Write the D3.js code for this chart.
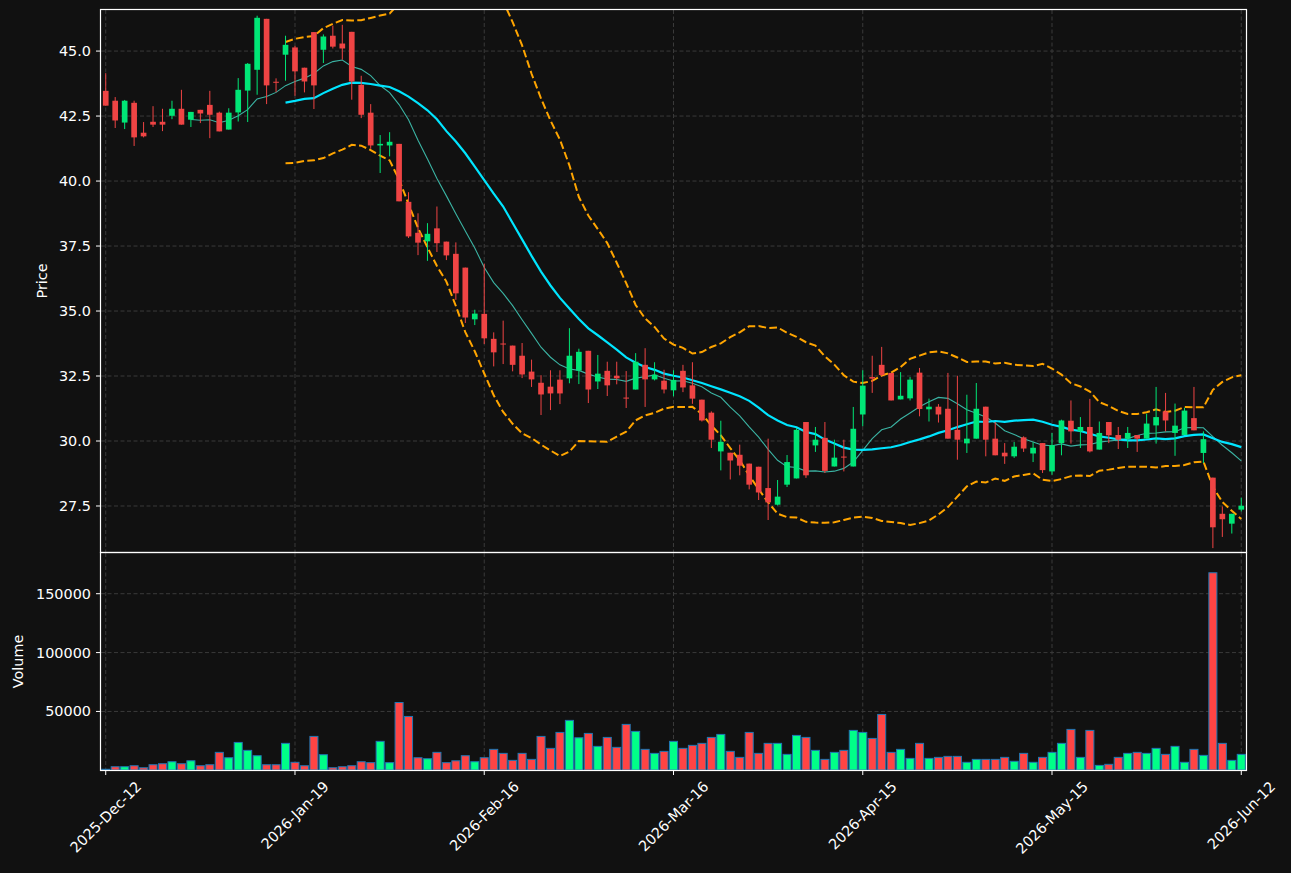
<!DOCTYPE html>
<html>
<head>
<meta charset="utf-8">
<script src="https://cdnjs.cloudflare.com/ajax/libs/d3/7.8.5/d3.min.js"></script>
<style>
    html, body { margin: 0; padding: 0; background: #111111; }
    svg { display: block; }
</style>
</head>
<body>
<div id="chart"></div>
<script>
// OHLC + volume, one entry per trading session (index 0 .. 120)
const opens = [43.47, 43.09, 42.25, 43.01, 41.86, 42.28, 42.28, 42.51, 42.78, 42.36,
    42.74, 42.93, 42.63, 41.98, 42.64, 43.48, 44.28, 46.24, 43.82, 44.86,
    45.14, 44.36, 45.73, 45.05, 45.59, 45.29, 45.74, 43.70, 42.63, 41.37,
    41.37, 41.43, 39.20, 38.01, 37.68, 38.18, 37.67, 37.20, 36.67, 34.68,
    34.89, 33.93, 33.75, 33.67, 33.28, 32.67, 32.24, 32.09, 32.36, 32.41,
    32.71, 33.47, 32.29, 32.70, 32.51, 31.67, 31.98, 32.93, 32.37, 32.32,
    31.95, 32.70, 32.14, 31.59, 31.09, 29.60, 29.55, 29.47, 29.13, 29.01,
    28.19, 27.55, 28.32, 28.56, 30.73, 29.83, 30.12, 29.02, 29.40, 29.02,
    31.02, 32.46, 32.93, 32.62, 31.60, 31.64, 32.63, 31.22, 31.32, 31.24,
    30.43, 29.91, 30.09, 31.32, 30.09, 29.55, 29.41, 30.14, 29.52, 29.92,
    28.83, 29.92, 30.78, 30.37, 30.54, 29.67, 30.73, 30.23, 30.09, 30.23,
    30.09, 30.60, 31.14, 30.31, 30.23, 30.88, 29.54, 28.59, 27.20, 26.82,
    27.36];
const highs = [44.15, 43.23, 43.12, 43.09, 42.27, 42.88, 42.78, 43.09, 43.51, 42.66,
    42.74, 43.47, 42.67, 42.80, 43.96, 44.54, 46.36, 46.24, 43.95, 45.59,
    45.20, 44.36, 45.73, 45.64, 45.98, 46.01, 45.74, 44.05, 42.96, 41.77,
    41.88, 41.43, 39.57, 38.76, 38.38, 39.02, 37.67, 37.64, 36.67, 35.05,
    36.82, 34.18, 34.63, 33.67, 33.77, 33.13, 32.53, 32.72, 32.72, 34.34,
    33.55, 33.47, 33.31, 33.05, 33.05, 32.69, 33.38, 33.57, 33.03, 32.74,
    32.72, 32.93, 33.03, 31.59, 31.14, 30.78, 29.55, 29.86, 29.13, 29.01,
    30.09, 28.50, 29.46, 30.50, 30.73, 30.54, 30.73, 30.05, 30.05, 31.31,
    32.72, 33.28, 33.62, 32.62, 32.65, 32.46, 32.81, 31.63, 31.42, 32.62,
    32.51, 31.78, 32.23, 31.32, 30.73, 29.92, 29.96, 30.18, 29.95, 29.92,
    30.31, 30.82, 31.56, 30.92, 31.62, 30.75, 30.73, 30.54, 30.54, 30.23,
    31.05, 32.08, 31.85, 31.44, 31.28, 32.08, 30.37, 28.59, 27.48, 27.20,
    27.82];
const lows = [42.90, 42.04, 42.00, 41.35, 41.68, 42.08, 41.92, 42.38, 42.17, 42.08,
    42.23, 41.65, 41.91, 41.98, 42.29, 42.27, 43.32, 42.96, 43.42, 43.86,
    43.28, 43.41, 42.77, 44.54, 45.10, 44.67, 43.13, 42.42, 41.24, 40.31,
    40.95, 39.22, 37.81, 37.15, 36.93, 37.27, 36.96, 35.43, 34.54, 34.46,
    33.73, 32.87, 32.96, 32.68, 32.42, 32.08, 31.00, 31.19, 31.42, 32.22,
    32.19, 31.46, 32.00, 31.73, 32.18, 31.27, 31.98, 31.31, 32.33, 31.83,
    31.72, 31.88, 31.43, 30.75, 29.73, 28.87, 28.52, 28.68, 28.14, 27.73,
    26.96, 27.52, 28.23, 28.56, 28.58, 29.58, 28.77, 29.02, 28.83, 29.02,
    30.57, 31.85, 32.48, 31.56, 31.60, 31.56, 30.95, 30.75, 30.71, 30.09,
    29.28, 29.54, 30.09, 29.41, 29.45, 29.12, 29.35, 29.58, 29.19, 28.77,
    28.70, 29.45, 29.90, 29.73, 29.56, 29.67, 29.92, 29.69, 29.73, 29.58,
    30.09, 29.90, 30.37, 29.43, 30.23, 30.41, 29.15, 25.88, 26.31, 26.44,
    27.29];
const closes = [42.90, 42.33, 43.09, 41.68, 41.72, 42.17, 42.17, 42.78, 42.17, 42.66,
    42.60, 42.55, 41.91, 42.63, 43.51, 44.51, 46.28, 43.68, 43.78, 45.24,
    44.22, 43.83, 43.68, 45.56, 45.17, 45.10, 43.83, 42.55, 41.37, 41.43,
    41.51, 39.22, 37.87, 37.63, 37.97, 37.61, 37.14, 35.68, 34.75, 34.90,
    33.95, 33.41, 33.73, 32.93, 32.56, 32.37, 31.79, 31.83, 31.83, 33.28,
    33.43, 31.98, 32.59, 32.14, 32.41, 31.65, 33.05, 32.37, 32.55, 31.98,
    32.35, 32.06, 31.63, 30.79, 30.05, 29.97, 29.25, 29.05, 28.32, 28.02,
    27.64, 27.86, 29.19, 30.43, 28.68, 30.05, 28.85, 29.36, 29.38, 30.47,
    32.13, 32.40, 32.54, 31.56, 31.74, 32.36, 31.23, 31.32, 31.02, 30.09,
    30.05, 30.09, 31.24, 30.05, 29.45, 29.41, 29.78, 29.71, 29.74, 28.88,
    29.84, 30.79, 30.37, 30.54, 29.60, 30.31, 30.22, 30.05, 30.31, 30.09,
    30.67, 30.92, 30.79, 30.59, 31.17, 30.41, 30.07, 26.68, 26.99, 27.20,
    27.51];
const volumes = [900, 3050, 3050, 3900, 2200, 4750, 5600, 7300, 5600, 8100,
    3900, 4750, 15250, 10700, 23700, 16950, 12400, 4750, 4750, 22900,
    6800, 3900, 28800, 13250, 2200, 3050, 3900, 7300, 6500, 24600,
    6500, 57600, 45750, 10700, 9850, 15250, 6500, 8100, 12400, 7300,
    10700, 17800, 14400, 8450, 14400, 9300, 28800, 18650, 32200, 42400,
    27650, 31350, 20350, 27950, 19500, 39000, 33050, 17800, 14400, 16100,
    24600, 18650, 21200, 22900, 27950, 30500, 16100, 11000, 32200, 14400,
    22900, 22900, 13550, 29650, 27950, 16950, 9300, 15250, 16950, 33900,
    32200, 27100, 47450, 15250, 17800, 10150, 22900, 10150, 11000, 11850,
    11850, 6800, 9300, 9300, 9300, 11000, 7650, 14400, 6800, 11000,
    15250, 22900, 34750, 11000, 33900, 4200, 5100, 11000, 14400, 15250,
    14400, 18650, 13550, 20350, 6800, 17800, 12700, 167800, 22900, 8450,
    13550];

const tick_index = [0, 20, 40, 60, 80, 100, 120];
const tick_labels = ['2025-Dec-12', '2026-Jan-19', '2026-Feb-16', '2026-Mar-16',
    '2026-Apr-15', '2026-May-15', '2026-Jun-12'];
const price_ticks = [27.5, 30.0, 32.5, 35.0, 37.5, 40.0, 42.5, 45.0];
const volume_ticks = [50000, 100000, 150000];
const price_range = [25.73, 46.58];

(function() {
    const width = 1291, height = 873;
    const left = 101, right = 1246,
        price_top = 10, price_bottom = 552,
        vol_top = 553, vol_bottom = 770;

    const font = 'DejaVu Sans, sans-serif',
        font_size = 14.4;

    const up_color = '#00e676', down_color = '#ef4444',
        vol_up = '#00ff88', vol_down = '#ff4444',
        grid_color = '#3a3a3a';

    const n = closes.length;

    // indicators, as the source chart draws them from the closes
    const window_of = (len, i) => closes.slice(i - len + 1, i + 1);
    const pop_std = (arr) => d3.deviation(arr) * Math.sqrt((arr.length - 1) / arr.length);
    const ma10 = closes.map((c, i) => i < 9 ? null : d3.mean(window_of(10, i)));
    const ma20 = closes.map((c, i) => i < 19 ? null : d3.mean(window_of(20, i)));
    const sd20 = closes.map((c, i) => i < 19 ? null : pop_std(window_of(20, i)));
    const bb_upper = ma20.map((m, i) => m === null ? null : m + 2 * sd20[i]);
    const bb_lower = ma20.map((m, i) => m === null ? null : m - 2 * sd20[i]);

    let x = d3.scaleLinear().domain([-0.5, n - 0.5]).range([left, right]);
    let y = d3.scaleLinear().domain(price_range).range([price_bottom, price_top]);
    let vy = d3.scaleLinear()
        .domain([0.3 * d3.min(volumes), 1.1 * d3.max(volumes)])
        .range([vol_bottom, vol_top]);

    const step = x(1) - x(0);

    let svg = d3.select('#chart').append('svg')
        .attr('width', width)
        .attr('height', height)
        .attr('font-family', font)
        .attr('font-size', font_size);

    svg.append('rect')
        .attr('width', width)
        .attr('height', height)
        .attr('fill', '#111111');

    let defs = svg.append('defs');
    defs.append('clipPath').attr('id', 'clip-price')
        .append('rect')
        .attr('x', left).attr('y', price_top)
        .attr('width', right - left).attr('height', price_bottom - price_top);
    defs.append('clipPath').attr('id', 'clip-vol')
        .append('rect')
        .attr('x', left).attr('y', vol_top)
        .attr('width', right - left).attr('height', vol_bottom - vol_top);

    // grids
    let grid = svg.append('g')
        .attr('stroke', grid_color)
        .attr('stroke-width', 1)
        .attr('stroke-dasharray', '4,2.5');

    grid.selectAll('line.hp')
        .data(price_ticks)
        .enter().append('line')
        .attr('class', 'hp')
        .attr('x1', left).attr('x2', right)
        .attr('y1', (d) => y(d)).attr('y2', (d) => y(d));

    grid.selectAll('line.hv')
        .data(volume_ticks)
        .enter().append('line')
        .attr('class', 'hv')
        .attr('x1', left).attr('x2', right)
        .attr('y1', (d) => vy(d)).attr('y2', (d) => vy(d));

    grid.selectAll('line.vp')
        .data(tick_index)
        .enter().append('line')
        .attr('class', 'vp')
        .attr('x1', (d) => x(d)).attr('x2', (d) => x(d))
        .attr('y1', price_top).attr('y2', price_bottom);

    grid.selectAll('line.vv')
        .data(tick_index)
        .enter().append('line')
        .attr('class', 'vv')
        .attr('x1', (d) => x(d)).attr('x2', (d) => x(d))
        .attr('y1', vol_top).attr('y2', vol_bottom);

    // volume bars
    svg.append('g')
        .attr('clip-path', 'url(#clip-vol)')
        .selectAll('rect')
        .data(volumes)
        .enter().append('rect')
        .attr('x', (d, i) => x(i) - step * 0.425)
        .attr('width', step * 0.85)
        .attr('y', (d) => vy(d))
        .attr('height', (d) => Math.max(0, vol_bottom - vy(d)))
        .attr('fill', (d, i) => closes[i] >= opens[i] ? vol_up : vol_down)
        .attr('stroke', '#1f77b4')
        .attr('stroke-width', 1);

    // price panel: bands, averages, candles
    let price = svg.append('g').attr('clip-path', 'url(#clip-price)');

    let line = d3.line()
        .defined((d) => d !== null)
        .x((d, i) => x(i))
        .y((d) => y(d));

    [bb_upper, bb_lower].forEach(function(band) {
        price.append('path').datum(band)
            .attr('fill', 'none')
            .attr('stroke', '#ffa500')
            .attr('stroke-width', 2)
            .attr('stroke-dasharray', '7.7,3.3')
            .attr('d', line);
    });

    price.append('path').datum(ma10)
        .attr('fill', 'none')
        .attr('stroke', '#3bb3a3')
        .attr('stroke-width', 1.1)
        .attr('d', line);

    price.append('path').datum(ma20)
        .attr('fill', 'none')
        .attr('stroke', '#00e5ff')
        .attr('stroke-width', 2.2)
        .attr('d', line);

    let candles = price.selectAll('g.candle')
        .data(d3.range(n))
        .enter().append('g')
        .attr('class', 'candle')
        .attr('fill', (i) => closes[i] >= opens[i] ? up_color : down_color)
        .attr('stroke', (i) => closes[i] >= opens[i] ? up_color : down_color);

    candles.append('line')
        .attr('x1', (i) => x(i)).attr('x2', (i) => x(i))
        .attr('y1', (i) => y(highs[i])).attr('y2', (i) => y(lows[i]))
        .attr('stroke-width', 1);

    candles.append('rect')
        .attr('stroke', 'none')
        .attr('x', (i) => x(i) - step * 0.3)
        .attr('width', step * 0.6)
        .attr('y', (i) => y(Math.max(opens[i], closes[i])))
        .attr('height', (i) => Math.max(1, Math.abs(y(opens[i]) - y(closes[i]))));

    // axes frames
    [[price_top, price_bottom], [vol_top, vol_bottom]].forEach(function(p) {
        svg.append('rect')
            .attr('x', left - 0.5).attr('y', p[0] - 0.5)
            .attr('width', right - left + 1).attr('height', p[1] - p[0] + 1)
            .attr('fill', 'none')
            .attr('stroke', '#ffffff')
            .attr('stroke-width', 1.2);
    });

    // y ticks
    let ytick = svg.append('g').attr('fill', '#ffffff').attr('text-anchor', 'end');

    price_ticks.forEach(function(t) {
        ytick.append('line')
            .attr('x1', left - 5).attr('x2', left)
            .attr('y1', y(t)).attr('y2', y(t))
            .attr('stroke', '#ffffff');
        ytick.append('text')
            .attr('x', left - 10).attr('y', y(t))
            .attr('dy', '0.35em')
            .text(d3.format('.1f')(t));
    });

    volume_ticks.forEach(function(t) {
        ytick.append('line')
            .attr('x1', left - 5).attr('x2', left)
            .attr('y1', vy(t)).attr('y2', vy(t))
            .attr('stroke', '#ffffff');
        ytick.append('text')
            .attr('x', left - 10).attr('y', vy(t))
            .attr('dy', '0.35em')
            .text(t);
    });

    // x ticks, rotated labels centred under the tick
    let xtick = svg.append('g').attr('fill', '#ffffff');
    tick_index.forEach(function(t, k) {
        let tx = x(t);
        xtick.append('line')
            .attr('x1', tx).attr('x2', tx)
            .attr('y1', vol_bottom).attr('y2', vol_bottom + 5)
            .attr('stroke', '#ffffff');
        let label = xtick.append('text')
            .attr('text-anchor', 'middle')
            .attr('dominant-baseline', 'central')
            .text(tick_labels[k]);
        let len = label.node().getComputedTextLength();
        let box = (len + font_size) * Math.SQRT1_2;
        let cy = vol_bottom + 9 + box / 2;
        label.attr('x', tx).attr('y', cy)
            .attr('transform', 'rotate(-45,' + tx + ',' + cy + ')');
    });

    svg.append('text')
        .attr('fill', '#ffffff')
        .attr('text-anchor', 'middle')
        .attr('transform', 'translate(42,' + (price_top + price_bottom) / 2 + ') rotate(-90)')
        .attr('dy', '0.35em')
        .text('Price');

    svg.append('text')
        .attr('fill', '#ffffff')
        .attr('text-anchor', 'middle')
        .attr('transform', 'translate(18,' + (vol_top + vol_bottom) / 2 + ') rotate(-90)')
        .attr('dy', '0.35em')
        .text('Volume');
}());
</script>
</body>
</html>
